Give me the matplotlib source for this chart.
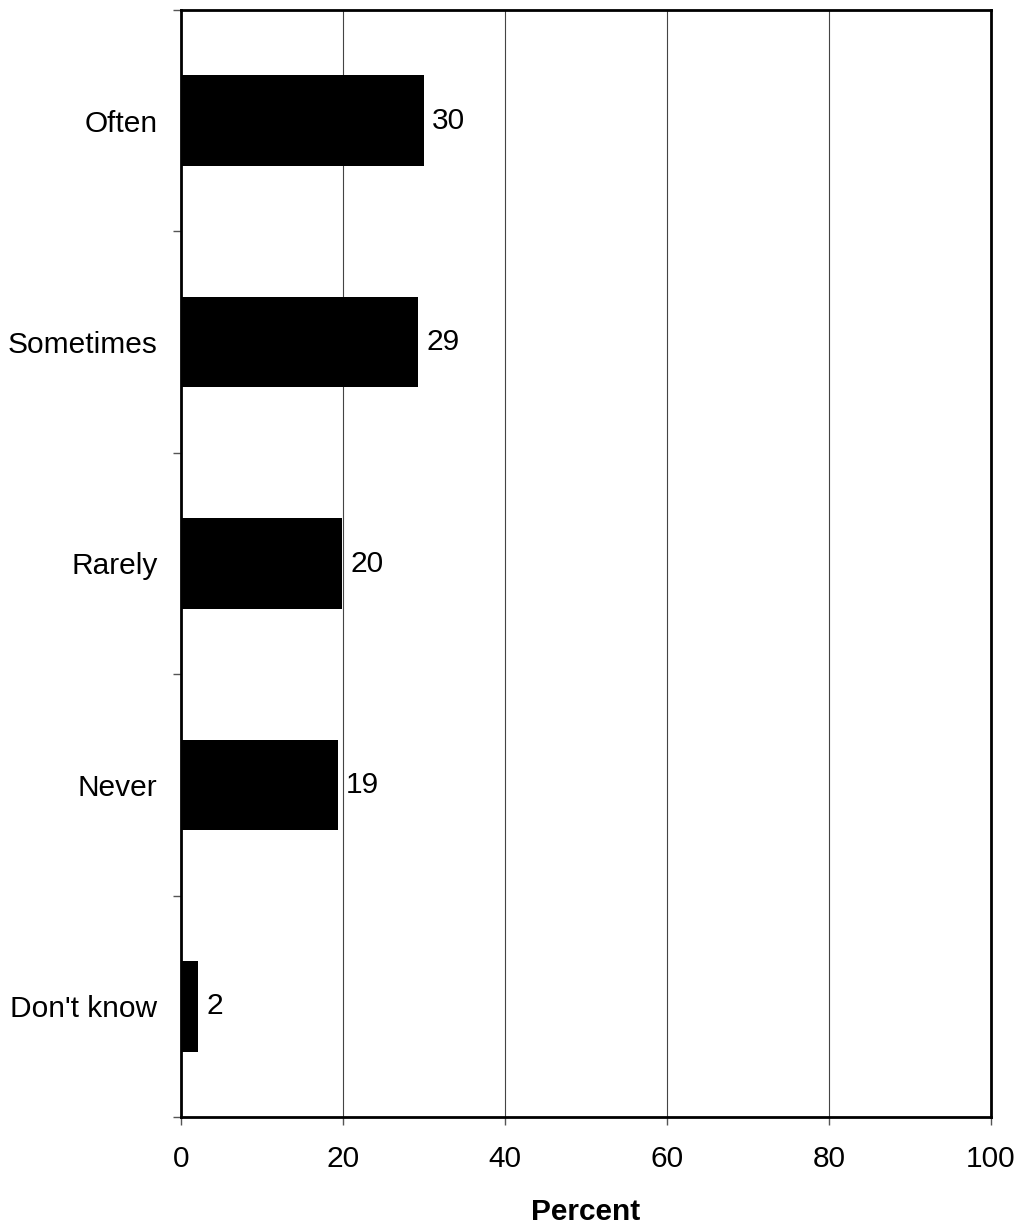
import numpy as np
import matplotlib
matplotlib.use('Agg')
import matplotlib.pyplot as plt

plt.rcParams['font.family'] = ['Liberation Sans', 'DejaVu Sans']

categories = ['Often', 'Sometimes', 'Rarely', 'Never', "Don't know"]
values = [30.0, 29.3, 19.9, 19.4, 2.1]
labels = ['30', '29', '20', '19', '2']

fs = 21.5

fig = plt.figure(figsize=(10.21, 12.26), dpi=100)
ax = fig.add_axes([181 / 1021, 1 - 1117 / 1226, 810 / 1021, 1107 / 1226])

ypos = np.arange(len(categories))
ax.barh(ypos, values, height=0.41, color='black', zorder=3)
for y, v, lab in zip(ypos, values, labels):
    ax.text(v + 1.0, y, lab, va='center', ha='left', fontsize=fs)

ax.set_xlim(0, 100)
ax.set_ylim(len(categories) - 0.5, -0.5)
ax.set_xticks([0, 20, 40, 60, 80, 100])
ax.tick_params(axis='x', labelsize=fs, length=6, width=1, color='#555555', pad=14)
ax.grid(axis='x', color='#444444', linewidth=0.8, zorder=0)

# y ticks at category boundaries, labels at centers
ax.set_yticks(np.arange(-0.5, len(categories)))
ax.set_yticklabels([])
ax.set_yticks(ypos, minor=True)
ax.set_yticklabels(categories, minor=True)
ax.tick_params(axis='y', which='major', length=6, width=1, color='#555555')
ax.tick_params(axis='y', which='minor', length=0, labelsize=fs, pad=17)

for s in ax.spines.values():
    s.set_linewidth(2)
    s.set_color('black')

ax.set_xlabel('Percent', fontsize=fs, fontweight='bold', labelpad=18)

fig.savefig('out.png', dpi=100)
